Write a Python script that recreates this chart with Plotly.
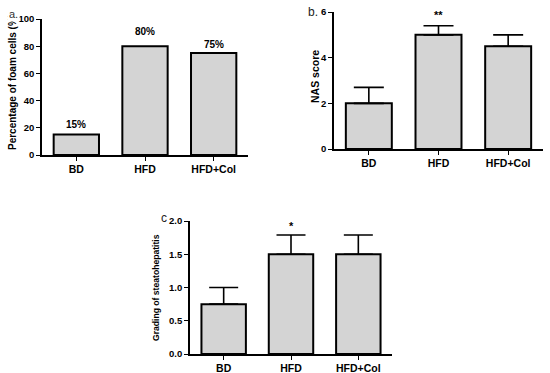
import plotly.graph_objects as go

categories = ["BD", "HFD", "HFD+Col"]

foam_pct = [15, 80, 75]
foam_labels = ["15%", "80%", "75%"]

nas_score = [2.0, 5.0, 4.5]
nas_err = [0.7, 0.4, 0.5]
nas_sig = ["", "**", ""]

grading = [0.75, 1.5, 1.5]
grading_err = [0.25, 0.29, 0.29]
grading_sig = ["", "*", ""]

W, H = 550, 373
FONT = "Liberation Sans"
BAR_FILL = "#d4d4d4"


def px(x):
    return x / W


def py(y):
    return 1 - y / H


fig = go.Figure()

bar_style = dict(marker=dict(color=BAR_FILL, line=dict(color="black", width=2)),
                 width=0.66, showlegend=False, hoverinfo="skip")

fig.add_trace(go.Bar(x=categories, y=foam_pct, xaxis="x", yaxis="y", **bar_style))
fig.add_trace(go.Bar(x=categories, y=nas_score, xaxis="x2", yaxis="y2",
                     error_y=dict(type="data", symmetric=False, array=nas_err,
                                  arrayminus=[0, 0, 0], color="black",
                                  thickness=1.6, width=15),
                     **bar_style))
fig.add_trace(go.Bar(x=categories, y=grading, xaxis="x3", yaxis="y3",
                     error_y=dict(type="data", symmetric=False, array=grading_err,
                                  arrayminus=[0, 0, 0], color="black",
                                  thickness=1.6, width=14.5),
                     **bar_style))

xax = dict(type="category", range=[-0.5, 2.5], showline=True, linecolor="black",
           linewidth=1.6, ticks="outside", ticklen=4, tickwidth=1.4,
           tickcolor="black", showgrid=False, zeroline=False, automargin=False,
           tickfont=dict(family=FONT, size=10.5, color="black", weight="bold"))
yax = dict(showline=True, linecolor="black", linewidth=1.6, ticks="outside",
           ticklen=4, tickwidth=1.4, tickcolor="black", showgrid=False,
           zeroline=False, automargin=False,
           tickfont=dict(family=FONT, size=9.5, color="black", weight="bold"))

fig.update_layout(
    template="none",
    width=W, height=H, margin=dict(l=0, r=0, t=0, b=0, pad=0),
    paper_bgcolor="white", plot_bgcolor="white", bargap=0.34,
    xaxis=dict(domain=[px(42), px(248)], anchor="y", **xax),
    yaxis=dict(domain=[py(155), py(19)], anchor="x", range=[0, 100],
               tickvals=[0, 20, 40, 60, 80, 100], **yax),
    xaxis2=dict(domain=[px(334), px(543)], anchor="y2", **xax),
    yaxis2=dict(domain=[py(149), py(12)], anchor="x2", range=[0, 6],
                tickvals=[0, 2, 4, 6], **yax),
    xaxis3=dict(domain=[px(190), px(392)], anchor="y3", **xax),
    yaxis3=dict(domain=[py(354), py(221)], anchor="x3", range=[0, 2],
                tickvals=[0, 0.5, 1.0, 1.5, 2.0], tickformat=".1f", **yax),
)

annos = []
# value labels panel a
shifts_a = [10, 15, 9]
for c, v, t, s in zip(categories, foam_pct, foam_labels, shifts_a):
    annos.append(dict(x=c, y=v, xref="x", yref="y", text=t, showarrow=False,
                      yshift=s, xanchor="center", yanchor="middle",
                      font=dict(family=FONT, size=10, color="black",
                                weight="bold")))
# significance stars
for c, v, e, t in zip(categories, nas_score, nas_err, nas_sig):
    if t:
        annos.append(dict(x=c, y=v + e, xref="x2", yref="y2", text=t,
                          showarrow=False, yshift=11, xanchor="center",
                          yanchor="middle",
                          font=dict(family=FONT, size=11, color="black",
                                    weight="bold")))
for c, v, e, t in zip(categories, grading, grading_err, grading_sig):
    if t:
        annos.append(dict(x=c, y=v + e, xref="x3", yref="y3", text=t,
                          showarrow=False, yshift=9, xanchor="center",
                          yanchor="middle",
                          font=dict(family=FONT, size=11, color="black",
                                    weight="bold")))

common = dict(xref="paper", yref="paper", showarrow=False, xanchor="center",
              yanchor="middle")
# axis titles
annos.append(dict(x=px(12), y=py(82), text="Percentage of foam cells (%)",
                  textangle=-90,
                  font=dict(family=FONT, size=10, color="black", weight="bold"),
                  **common))
annos.append(dict(x=px(315), y=py(77), text="NAS score", textangle=-90,
                  font=dict(family=FONT, size=10.5, color="black", weight="bold"),
                  **common))
annos.append(dict(x=px(156), y=py(288), text="Grading of steatohepatitis",
                  textangle=-90,
                  font=dict(family=FONT, size=8.6, color="black", weight="bold"),
                  **common))

# panel letters
annos.append(dict(x=px(13), y=py(14), text="a.", bgcolor="white",
                  font=dict(family=FONT, size=11, color="#333"), **common))
annos.append(dict(x=px(313), y=py(12), text="b.",
                  font=dict(family=FONT, size=12, color="#222"), **common))
annos.append(dict(x=px(164), y=py(218), text="c",
                  font=dict(family=FONT, size=12, color="#222"), **common))

fig.update_layout(annotations=annos)
fig.write_html("out.html", config={"displayModeBar": False},
               post_script="document.body.style.margin='0';")
